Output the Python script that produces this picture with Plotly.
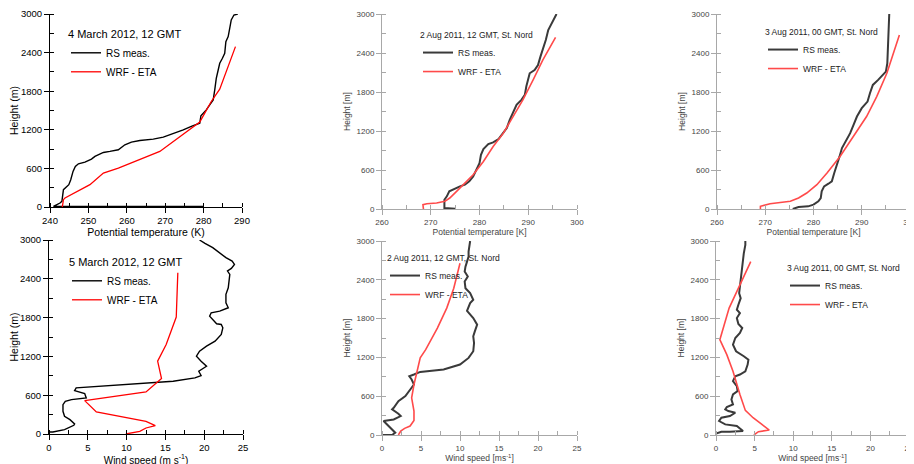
import plotly.graph_objects as go

W, H = 914, 464
OFF = 8  # page body margin in the browser

# ---------------- data ----------------
# Panel 1: 4 March 2012, 12 GMT, potential temperature (K) vs height (m)
p1_rs_x = [280.0, 240.9, 242.6, 243.1, 243.5, 243.9, 244.9, 245.4, 246.0, 246.6, 247.4, 249.1, 250.8,
           251.7, 252.6, 253.9, 255.6, 257.8, 259.5, 261.2, 263.4, 266.9, 269.5, 272.1, 274.7,
           276.8, 279.0, 279.3, 280.0, 280.7, 281.6, 282.5, 282.9, 283.3, 283.8, 284.2, 284.9,
           285.5, 285.8, 286.4, 286.8, 287.2, 287.9, 288.9]
p1_rs_y = [8, 8, 62, 88, 269, 295, 347, 424, 553, 631, 672, 698, 745, 786, 812, 848, 864, 890, 967,
           1009, 1034, 1055, 1086, 1138, 1200, 1252, 1303, 1417, 1459, 1510, 1588, 1665, 1820, 2000,
           2130, 2234, 2312, 2390, 2570, 2648, 2777, 2907, 2984, 3000]
p1_wrf_x = [243.2, 243.5, 243.9, 250.4, 253.9, 257.8, 268.6, 279.0, 280.3, 282.0, 284.2, 288.3]
p1_wrf_y = [0, 114, 140, 347, 528, 605, 864, 1319, 1459, 1640, 1831, 2493]

# Panel 2: 5 March 2012, 12 GMT, wind speed (m/s) vs height (m)
p2_rs_x = [0.0, 0.5, 2.0, 3.2, 3.3, 2.7, 2.0, 1.8, 1.8, 2.1, 2.9, 4.8, 4.6, 3.3, 3.5, 6.5, 11.7,
           16.0, 18.8, 19.6, 19.3, 20.3, 19.6, 19.0, 19.4, 20.3, 21.4, 22.2, 22.4, 22.2, 21.6,
           20.7, 20.9, 22.0, 23.1, 22.8, 22.8, 23.1, 23.2, 23.3, 23.0, 23.5, 23.9, 23.6, 22.8,
           22.0, 21.1, 20.1, 19.4]
p2_rs_y = [31, 31, 67, 134, 155, 222, 274, 351, 454, 506, 532, 558, 625, 671, 713, 738, 775, 816,
           868, 904, 971, 1048, 1126, 1203, 1281, 1358, 1436, 1539, 1642, 1694, 1704, 1823, 1875,
           1900, 1952, 2030, 2159, 2262, 2365, 2468, 2520, 2561, 2623, 2675, 2727, 2804, 2881,
           2948, 3000]
p2_wrf_x = [9.9, 11.7, 12.5, 13.7, 12.5, 6.1, 4.6, 12.5, 14.5, 14.0, 15.1, 16.4, 16.6]
p2_wrf_y = [0, 41, 93, 129, 196, 341, 516, 651, 857, 1126, 1384, 1808, 2494]

# Panel 3: 2 Aug 2011, 12 GMT, St. Nord, potential temperature
p3_rs_x = [275.0, 272.8, 272.8, 273.3, 273.8, 274.7, 276.0, 277.0, 277.9, 278.7, 279.4, 280.0,
           280.3, 280.8, 281.8, 282.8, 283.9, 284.9, 285.6, 286.2, 286.9, 287.6, 288.6, 289.3,
           289.6, 290.0, 290.3, 291.3, 292.0, 292.5, 293.1, 293.6, 294.1, 294.8, 295.4, 295.8]
p3_rs_y = [5, 15, 143, 195, 271, 307, 348, 374, 425, 502, 604, 706, 834, 921, 998, 1024, 1075,
           1167, 1244, 1372, 1500, 1602, 1679, 1756, 1884, 2012, 2088, 2139, 2216, 2344, 2472,
           2600, 2754, 2856, 2959, 3000]
p3_wrf_x = [268.5, 268.4, 269.2, 271.2, 272.9, 273.9, 275.3, 276.7, 278.7, 280.8, 282.8, 284.9,
            286.9, 288.9, 291.0, 293.0, 295.6]
p3_wrf_y = [0, 67, 82, 92, 118, 169, 271, 374, 527, 732, 962, 1167, 1423, 1679, 1986, 2293, 2641]

# Panel 4: 2 Aug 2011, 12 GMT, St. Nord, wind speed
p4_rs_x = [0.0, 1.3, 1.7, 0.9, 0.2, 1.5, 2.4, 2.1, 1.5, 1.3, 1.5, 2.1, 3.0, 3.6, 4.1, 3.8, 3.5,
           4.1, 4.9, 7.9, 10.0, 11.1, 11.7, 11.8, 11.7, 11.9, 12.2, 11.7, 10.9, 11.3, 11.7, 11.3,
           10.7, 10.6, 11.0, 10.6, 10.7, 10.9, 11.1, 11.1, 11.2, 11.3]
p4_rs_y = [0, 0, 36, 139, 216, 241, 293, 329, 370, 396, 421, 524, 601, 704, 781, 858, 909, 935,
           976, 1012, 1089, 1192, 1295, 1423, 1526, 1603, 1706, 1808, 1921, 2039, 2091, 2193,
           2270, 2373, 2450, 2527, 2604, 2681, 2758, 2835, 2938, 3000]
p4_wrf_x = [2.1, 2.4, 2.9, 3.6, 4.1, 4.1, 3.8, 4.1, 4.5, 4.9, 5.6, 7.1, 8.3, 9.2, 10.0]
p4_wrf_y = [0, 62, 103, 139, 226, 370, 575, 781, 986, 1192, 1320, 1654, 1962, 2270, 2656]

# Panel 5: 3 Aug 2011, 00 GMT, St. Nord, potential temperature
p5_rs_x = [275.7, 276.9, 278.9, 280.0, 281.0, 281.5, 281.7, 282.2, 283.1, 283.8, 284.3, 284.9,
           285.4, 285.9, 286.6, 287.6, 288.3, 289.0, 290.0, 291.2, 291.7, 292.3, 293.4, 295.0,
           295.3, 295.4, 295.5, 295.7]
p5_rs_y = [0, 31, 41, 67, 118, 169, 271, 348, 389, 425, 553, 681, 809, 937, 1039, 1167, 1295,
           1423, 1551, 1653, 1781, 1909, 1986, 2114, 2242, 2447, 2703, 3000]
p5_wrf_x = [269.0, 269.0, 271.0, 275.2, 276.9, 278.6, 280.7, 282.8, 285.5, 288.3, 291.0, 293.1,
            295.2, 297.8]
p5_wrf_y = [0, 41, 82, 118, 169, 246, 374, 553, 809, 1116, 1423, 1730, 2088, 2677]

# Panel 6: 3 Aug 2011, 00 GMT, St. Nord, wind speed
p6_rs_x = [0.0, 0.7, 1.8, 3.5, 2.7, 1.2, 0.4, 0.7, 1.8, 2.5, 1.6, 1.2, 1.4, 2.2, 2.0, 2.2, 2.8,
           2.7, 2.2, 2.5, 3.1, 3.8, 4.1, 4.2, 3.6, 2.6, 2.2, 2.5, 3.1, 3.4, 2.9, 2.7, 3.1, 2.7,
           2.9, 3.2, 3.0, 3.1, 3.2, 3.3, 3.5, 3.6, 3.8, 3.8]
p6_rs_y = [21, 51, 51, 62, 139, 164, 216, 267, 293, 344, 370, 396, 432, 473, 550, 627, 678, 755,
           832, 909, 935, 986, 1089, 1166, 1218, 1295, 1397, 1500, 1577, 1654, 1716, 1808, 1885,
           1937, 2014, 2116, 2193, 2296, 2399, 2527, 2681, 2809, 2938, 3000]
p6_wrf_x = [4.9, 5.5, 6.9, 5.9, 4.8, 3.8, 3.1, 2.2, 1.4, 0.5, 1.7, 4.5]
p6_wrf_y = [0, 51, 77, 164, 267, 380, 627, 986, 1243, 1474, 1962, 2681]

titles = ["4 March 2012, 12 GMT", "5 March 2012, 12 GMT",
          "2 Aug 2011, 12 GMT, St. Nord", "2 Aug 2011, 12 GMT, St. Nord",
          "3 Aug 2011, 00 GMT, St. Nord", "3 Aug 2011, 00 GMT, St. Nord"]
rs_name = "RS meas."
wrf_name = "WRF - ETA"
y_ticks = [0, 600, 1200, 1800, 2400, 3000]
theta_ticks_a = [240, 250, 260, 270, 280, 290]
theta_ticks_b = [260, 270, 280, 290, 300]
wind_ticks = [0, 5, 10, 15, 20, 25]

series = [
    (p1_rs_x, p1_rs_y, p1_wrf_x, p1_wrf_y),
    (p2_rs_x, p2_rs_y, p2_wrf_x, p2_wrf_y),
    (p3_rs_x, p3_rs_y, p3_wrf_x, p3_wrf_y),
    (p4_rs_x, p4_rs_y, p4_wrf_x, p4_wrf_y),
    (p5_rs_x, p5_rs_y, p5_wrf_x, p5_wrf_y),
    (p6_rs_x, p6_rs_y, p6_wrf_x, p6_wrf_y),
]

# ---------------- layout geometry (window pixels) ----------------
boxes = [  # left, right, top, bottom
    (50, 242, 14, 207),
    (49, 243, 240, 434),
    (382, 577, 14, 209),
    (382, 577, 241, 435),
    (717, 910, 14, 209),
    (716, 909, 241, 435),
]
legend_pos = [(66, 24), (67, 252), (418, 27), (385, 250), (763, 24), (785, 260)]
xcfg = [
    (theta_ticks_a, [240, 290], "Potential temperature (K)", 5, 10.5),
    (wind_ticks, [0, 25], "Wind speed (m s<sup>-1</sup>)", 2.5, 10),
    (theta_ticks_b, [260, 300], "Potential temperature [K]", 5, 8.5),
    (wind_ticks, [0, 25], "Wind speed [ms<sup>-1</sup>]", 2.5, 8.5),
    (theta_ticks_b, [260, 300], "Potential temperature [K]", 5, 8.5),
    (wind_ticks, [0, 25], "Wind speed [ms<sup>-1</sup>]", 2.5, 8.5),
]
ytitles = ["Height (m)", "Height (m)", "Height [m]", "Height [m]", "Height [m]", "Height [m]"]


def px_x(p):
    return (p - OFF) / W


def px_y(p):
    return 1 - (p - OFF) / H


FONT = "Liberation Sans, Arial, sans-serif"
fig = go.Figure()
layout = dict(
    width=W, height=H, margin=dict(l=0, r=0, t=0, b=0, autoexpand=False),
    paper_bgcolor="white", plot_bgcolor="white",
    font=dict(family=FONT, color="black"),
    showlegend=True,
)

for i in range(6):
    n = i + 1
    left_style = i < 2
    l, r, t, b = boxes[i]
    xd = [px_x(l), px_x(r)]
    yd = [px_y(b), px_y(t)]
    rsx, rsy, wx, wy = series[i]
    xt, xr, xtitle, xminor, xtfs = xcfg[i]
    axc = "black" if left_style else "#a8a8a8"
    txc = "black" if left_style else "#444444"
    fs = 9.5 if left_style else 8
    tfs = 10.5 if left_style else 8.5
    rs_col = "black" if left_style else "#3a3a3a"
    rs_w = 1.4 if left_style else 2.0
    wrf_col = "#ff0000" if left_style else "#ff4a4a"
    wrf_w = 1.3 if left_style else 1.6
    leg = "legend" if n == 1 else f"legend{n}"
    xa = "x" if n == 1 else f"x{n}"
    ya = "y" if n == 1 else f"y{n}"

    fig.add_trace(go.Scatter(x=rsx, y=rsy, mode="lines", name=rs_name, xaxis=xa, yaxis=ya,
                             line=dict(color=rs_col, width=rs_w), legend=leg))
    fig.add_trace(go.Scatter(x=wx, y=wy, mode="lines", name=wrf_name, xaxis=xa, yaxis=ya,
                             line=dict(color=wrf_col, width=wrf_w), legend=leg))

    common = dict(showgrid=False, zeroline=False, showline=True, linecolor=axc, linewidth=1,
                  tickcolor=axc, automargin=False)
    tickfont = dict(size=fs, color=txc, family=FONT)
    xk = "xaxis" if n == 1 else f"xaxis{n}"
    yk = "yaxis" if n == 1 else f"yaxis{n}"
    layout[xk] = dict(domain=xd, anchor=ya, range=xr, tickmode="array", tickvals=xt,
                      ticks="outside", ticklen=5, tickfont=tickfont,
                      minor=dict(dtick=xminor, ticks="inside", ticklen=4, tickcolor=axc),
                      title=dict(text=xtitle, font=dict(size=xtfs, color=txc, family=FONT), standoff=0),
                      **common)
    layout[yk] = dict(domain=yd, anchor=xa, range=[0, 3000], tickmode="array", tickvals=y_ticks,
                      ticks="outside", ticklen=5, tickfont=tickfont,
                      minor=dict(dtick=300, ticks="inside", ticklen=4, tickcolor=axc),
                      title=dict(text=ytitles[i], font=dict(size=tfs, color=txc, family=FONT), standoff=4),
                      **common)
    # top / right frames with inward ticks
    m = n + 6
    layout[f"xaxis{m}"] = dict(domain=xd, anchor=ya, overlaying=xa, side="top", range=xr,
                               tickmode="array", tickvals=xt, ticks="inside", ticklen=4,
                               showticklabels=False, **common)
    layout[f"yaxis{m}"] = dict(domain=yd, anchor=xa, overlaying=ya, side="right", range=[0, 3000],
                               tickmode="array", tickvals=y_ticks, ticks="inside", ticklen=4,
                               minor=dict(dtick=300, ticks="inside", ticklen=4, tickcolor=axc),
                               showticklabels=False, **common)

    lx, ly = legend_pos[i]
    lc = "black" if left_style else "#222"
    layout[leg] = dict(x=px_x(lx), y=px_y(ly), xanchor="left", yanchor="top",
                       bgcolor="rgba(0,0,0,0)", borderwidth=0, itemwidth=30, tracegroupgap=0,
                       title=dict(text=titles[i], side="top",
                                  font=dict(size=11 if left_style else 8.5, color=lc, family=FONT)),
                       font=dict(size=10 if left_style else 8.5, color=lc, family=FONT))

fig.update_layout(**layout)
fig.write_html("out.html")
